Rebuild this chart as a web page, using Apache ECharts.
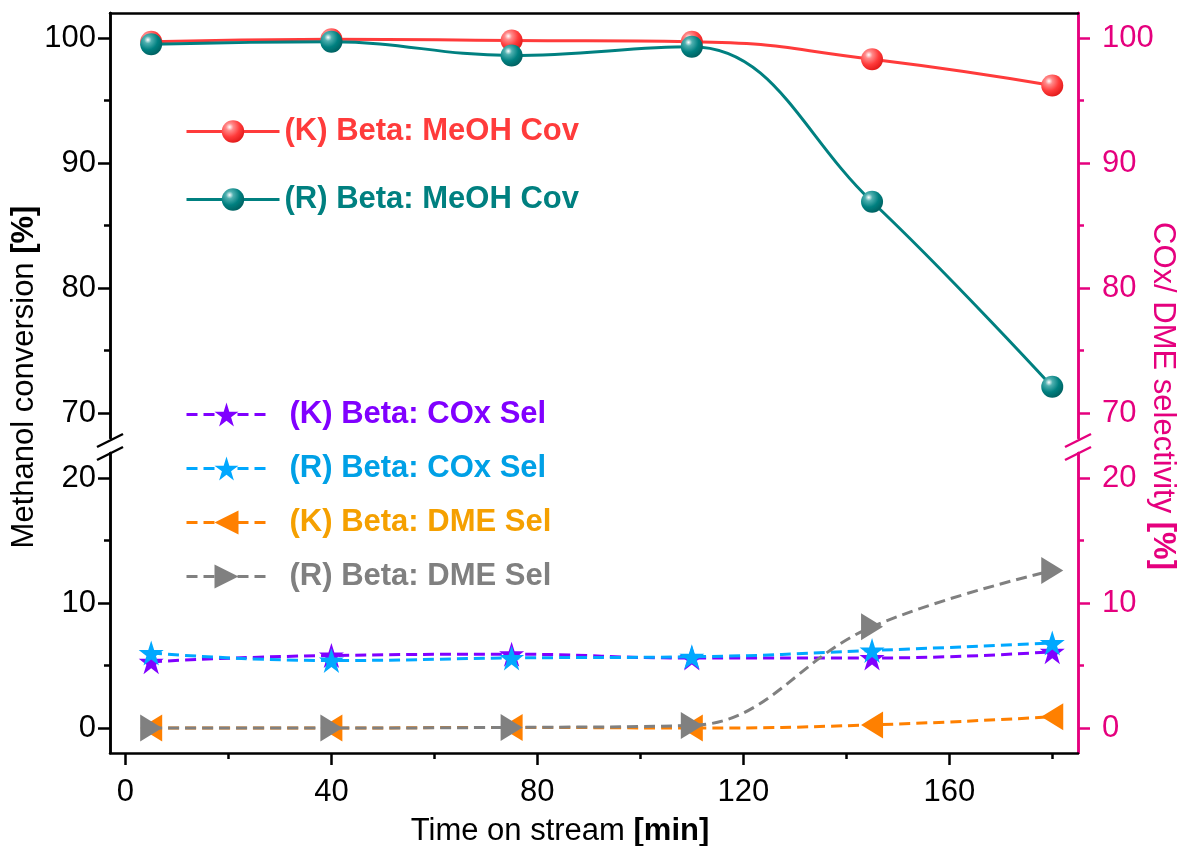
<!DOCTYPE html>
<html>
<head>
<meta charset="utf-8">
<script src="https://cdn.jsdelivr.net/npm/echarts@6/dist/echarts.min.js"></script>
<style>html,body{margin:0;padding:0;background:#fff;}#c{width:1184px;height:846px;}</style>
</head>
<body>
<div id="c"></div>
<script>
// ---- data ----
const times = [5, 40, 75, 110, 145, 180];
const kMeOH = [99.7, 99.9, 99.8, 99.7, 98.3, 96.2];
const rMeOH = [99.5, 99.7, 98.6, 99.3, 86.9, 72.1];
const kCOx = [5.3, 5.8, 5.9, 5.6, 5.6, 6.1];
const rCOx = [6.0, 5.4, 5.6, 5.7, 6.2, 6.8];
const kDME = [0, 0, 0.05, 0, 0.25, 0.9];
const rDME = [0, 0, 0.05, 0.2, 8.1, 12.6];
const seriesNames = ['(K) Beta: MeOH Cov', '(R) Beta: MeOH Cov', '(K) Beta: COx Sel', '(R) Beta: COx Sel', '(K) Beta: DME Sel', '(R) Beta: DME Sel'];
const xTicks = [0, 40, 80, 120, 160];
const xMinor = [20, 60, 100, 140, 180];
const upperTicks = [70, 80, 90, 100];
const upperMinor = [75, 85, 95];
const lowerTicks = [0, 10, 20];
const lowerMinor = [5, 15];

const FF = '"Liberation Sans", Arial, Helvetica, sans-serif';
const PINK = '#E5007E';
const RED = '#FF3B3B', TEAL = '#008080', PURPLE = '#8000FF', BLUE = '#00A8FF', ORANGE = '#FF8000', GRAY = '#808080';
const LBL = 31, TTL = 31, LEG = 31;
const zip = (xs, ys) => xs.map((x, i) => [x, ys[i]]);
const sphere = (light, mid, dark) => ({
  type: 'radial', x: 0.35, y: 0.3, r: 0.75,
  colorStops: [{offset: 0, color: '#ffffff'}, {offset: 0.22, color: light}, {offset: 0.6, color: mid}, {offset: 1, color: dark}]
});
const STAR = 'path://M50,0 L61.2,34.5 L97.6,34.5 L68.2,55.9 L79.4,90.5 L50,69.1 L20.6,90.5 L31.8,55.9 L2.4,34.5 L38.8,34.5 Z';
const TRI_L = 'path://M0,50 L100,0 L100,100 Z';
const TRI_R = 'path://M100,50 L0,0 L0,100 Z';
const DASH = [11, 6];

function yAx(grid, pos, min, max, vals, len, labels, color, margin) {
  return {
    gridIndex: grid, type: 'value', position: pos, min: min, max: max,
    axisLine: {show: true, onZero: false, lineStyle: {color: color, width: 2.5}},
    axisTick: {show: true, inside: false, length: len, customValues: vals, lineStyle: {color: color, width: 2.5}},
    axisLabel: labels ? {show: true, customValues: vals, color: color, fontSize: LBL, fontFamily: FF, margin: margin} : {show: false},
    splitLine: {show: false}
  };
}

const chart = echarts.init(document.getElementById('c'), null, {renderer: 'canvas'});
const option = {
  animation: false,
  backgroundColor: '#fff',
  grid: [
    {left: 110, right: 106, top: 13, height: 425},
    {left: 110, right: 106, top: 453, height: 300}
  ],
  xAxis: [
    {gridIndex: 0, type: 'value', min: -3, max: 185, position: 'top',
      axisLine: {onZero: false, lineStyle: {color: '#000', width: 2.5}}, axisTick: {show: false}, axisLabel: {show: false}, splitLine: {show: false}},
    {gridIndex: 1, type: 'value', min: -3, max: 185, position: 'bottom',
      axisLine: {onZero: false, lineStyle: {color: '#000', width: 2.5}},
      axisTick: {show: true, length: 12, customValues: xTicks, lineStyle: {color: '#000', width: 2.5}},
      axisLabel: {show: true, customValues: xTicks, color: '#000', fontSize: LBL, fontFamily: FF, margin: 24},
      splitLine: {show: false}},
    {gridIndex: 1, type: 'value', min: -3, max: 185, position: 'bottom',
      axisLine: {show: false, onZero: false},
      axisTick: {show: true, length: 6, customValues: xMinor, lineStyle: {color: '#000', width: 2.5}},
      axisLabel: {show: false}, splitLine: {show: false}}
  ],
  yAxis: [
    yAx(0, 'left', 68, 102, upperTicks, 12, true, '#000', 14),
    yAx(0, 'left', 68, 102, upperMinor, 6, null, '#000', 0),
    yAx(0, 'right', 68, 102, upperTicks, 12, true, PINK, 24),
    yAx(0, 'right', 68, 102, upperMinor, 6, null, PINK, 0),
    yAx(1, 'left', -2, 22, lowerTicks, 12, true, '#000', 14),
    yAx(1, 'left', -2, 22, lowerMinor, 6, null, '#000', 0),
    yAx(1, 'right', -2, 22, lowerTicks, 12, true, PINK, 24),
    yAx(1, 'right', -2, 22, lowerMinor, 6, null, PINK, 0)
  ],
  legend: [
    {
      orient: 'vertical', left: 185, top: 116, padding: 0, itemWidth: 93, itemHeight: 28, itemGap: 37,
      lineStyle: {width: 3},
      textStyle: {fontSize: LEG, fontWeight: 'bold', fontFamily: FF},
      data: [
        {name: seriesNames[0], textStyle: {color: RED}},
        {name: seriesNames[1], textStyle: {color: TEAL}}
      ]
    },
    {
      orient: 'vertical', left: 185, top: 399, padding: 0, itemWidth: 80, itemHeight: 30, itemGap: 23,
      lineStyle: {width: 3},
      textStyle: {fontSize: LEG, fontWeight: 'bold', fontFamily: FF, padding: [0, 0, 0, 18]},
      data: [
        {name: seriesNames[2], textStyle: {color: PURPLE}},
        {name: seriesNames[3], textStyle: {color: '#00A0E6'}},
        {name: seriesNames[4], textStyle: {color: '#F5A000'}},
        {name: seriesNames[5], textStyle: {color: GRAY}}
      ]
    }
  ],
  series: [
    {name: seriesNames[0], type: 'line', xAxisIndex: 0, yAxisIndex: 0, data: zip(times, kMeOH), smooth: true,
      symbol: 'circle', symbolSize: 22, lineStyle: {color: RED, width: 3},
      itemStyle: {color: sphere('#FF8A8A', '#FF3B3B', '#E01818')}, z: 3},
    {name: seriesNames[1], type: 'line', xAxisIndex: 0, yAxisIndex: 0, data: zip(times, rMeOH), smooth: 0.4,
      symbol: 'circle', symbolSize: 22, lineStyle: {color: TEAL, width: 3},
      itemStyle: {color: sphere('#4FB0B0', '#008080', '#005F5F')}, z: 4},
    {name: seriesNames[2], type: 'line', xAxisIndex: 1, yAxisIndex: 4, data: zip(times, kCOx), smooth: true,
      symbol: STAR, symbolSize: 25, lineStyle: {color: PURPLE, width: 3, type: DASH},
      itemStyle: {color: PURPLE}, z: 3},
    {name: seriesNames[3], type: 'line', xAxisIndex: 1, yAxisIndex: 4, data: zip(times, rCOx), smooth: true,
      symbol: STAR, symbolSize: 25, lineStyle: {color: BLUE, width: 3, type: DASH},
      itemStyle: {color: BLUE}, z: 4},
    {name: seriesNames[4], type: 'line', xAxisIndex: 1, yAxisIndex: 4, data: zip(times, kDME), smooth: true,
      symbol: TRI_L, symbolSize: [22, 27], lineStyle: {color: ORANGE, width: 3, type: DASH},
      itemStyle: {color: ORANGE}, z: 3},
    {name: seriesNames[5], type: 'line', xAxisIndex: 1, yAxisIndex: 4, data: zip(times, rDME), smooth: 0.4,
      symbol: TRI_R, symbolSize: [22, 27], lineStyle: {color: GRAY, width: 3, type: DASH},
      itemStyle: {color: GRAY}, z: 4}
  ],
  graphic: [
    {type: 'line', shape: {x1: 97, y1: 447, x2: 123, y2: 434}, style: {stroke: '#000', lineWidth: 2.5}, z: 100},
    {type: 'line', shape: {x1: 97, y1: 460, x2: 123, y2: 447}, style: {stroke: '#000', lineWidth: 2.5}, z: 100},
    {type: 'line', shape: {x1: 1065, y1: 447, x2: 1091, y2: 434}, style: {stroke: PINK, lineWidth: 2.5}, z: 100},
    {type: 'line', shape: {x1: 1065, y1: 460, x2: 1091, y2: 447}, style: {stroke: PINK, lineWidth: 2.5}, z: 100},
    {type: 'text', x: 24, y: 377, rotation: Math.PI / 2,
      style: {text: 'Methanol conversion {b|[%]}', fill: '#000', fontSize: TTL, fontFamily: FF, align: 'center', verticalAlign: 'middle',
        rich: {b: {fontSize: TTL, fontWeight: 'bold', fontFamily: FF, fill: '#000'}}}},
    {type: 'text', x: 1163, y: 396, rotation: -Math.PI / 2,
      style: {text: 'COx/ DME selectivity {b|[%]}', fill: PINK, fontSize: TTL, fontFamily: FF, align: 'center', verticalAlign: 'middle',
        rich: {b: {fontSize: TTL, fontWeight: 'bold', fontFamily: FF, fill: PINK}}}},
    {type: 'text', x: 560, y: 831,
      style: {text: 'Time on stream {b|[min]}', fill: '#000', fontSize: TTL, fontFamily: FF, align: 'center', verticalAlign: 'middle',
        rich: {b: {fontSize: TTL, fontWeight: 'bold', fontFamily: FF, fill: '#000'}}}}
  ]
};
chart.setOption(option);
</script>
</body>
</html>
